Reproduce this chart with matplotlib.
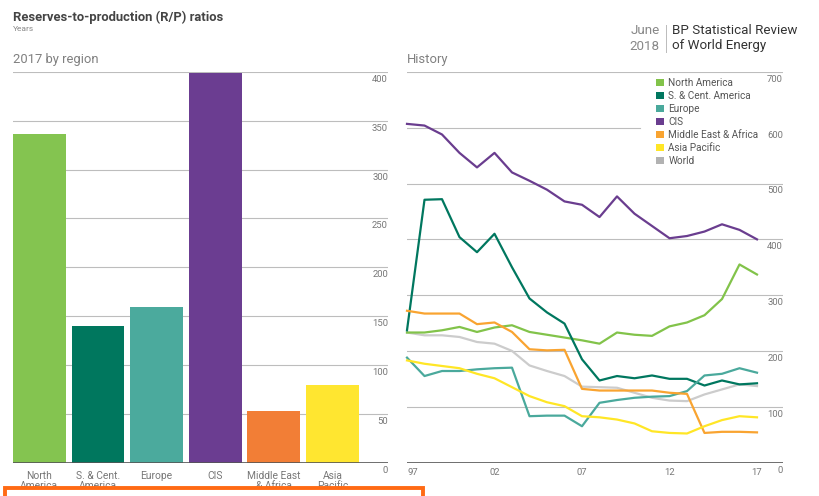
import matplotlib as mpl
mpl.use('Agg')
import matplotlib.pyplot as plt
from matplotlib.patches import Patch, Rectangle

plt.rcParams['font.family'] = ['Roboto', 'DejaVu Sans']

# 2017 by region
regions = ['North\nAmerica', 'S. & Cent.\nAmerica', 'Europe', 'CIS', 'Middle East\n& Africa', 'Asia\nPacific']
rp_2017 = [336, 140, 159, 399, 53, 79]
bar_colors = ['#84C450', '#00775E', '#4BAA9D', '#6B3D91', '#F27E36', '#FFE630']

# history 1997-2017
years = list(range(1997, 2018))
north_america = [233, 233, 237, 243, 234, 242, 246, 234, 229, 224, 219,
                 213, 233, 229, 227, 244, 251, 264, 293, 355, 337]
sc_america = [237, 471, 472, 404, 377, 410, 350, 294, 269, 249, 185,
              147, 155, 151, 156, 150, 150, 138, 147, 140, 142]
europe = [188, 155, 164, 164, 167, 169, 170, 83, 84, 84, 65,
          107, 112, 116, 118, 119, 128, 156, 159, 169, 161]
cis = [607, 604, 588, 555, 529, 555, 520, 505, 489, 468, 462,
       440, 477, 446, 424, 402, 406, 414, 427, 417, 400]
mea = [272, 267, 267, 267, 248, 251, 234, 203, 201, 202, 132,
       129, 129, 129, 129, 125, 123, 53, 55, 55, 54]
asia_pacific = [183, 177, 173, 169, 159, 151, 135, 119, 108, 101, 83,
                81, 77, 70, 56, 53, 52, 65, 76, 83, 81]
world = [233, 228, 228, 225, 216, 213, 200, 174, 164, 155, 136,
         135, 134, 125, 116, 111, 110, 122, 131, 140, 137]

series_names = ['North America', 'S. & Cent. America', 'Europe', 'CIS',
                'Middle East & Africa', 'Asia Pacific', 'World']
series = [north_america, sc_america, europe, cis, mea, asia_pacific, world]
line_colors = ['#82C34A', '#00775F', '#4AA99C', '#6A3D8F', '#F9A431', '#FFE626', '#CCCCCC']
legend_colors = ['#82C34A', '#00775F', '#4AA99C', '#6A3D8F', '#F9A431', '#FFE626', '#B2B2B2']

grid_c = '#BDBDBD'
label_c = '#777777'
fs_tick = 6.8

fig = plt.figure(figsize=(8.2, 4.96), dpi=100)

bottom = 1 - 462.5 / 496
height = (462.5 - 72) / 496

# left: bars
ax1 = fig.add_axes([13 / 820, bottom, 375 / 820, height])
for v in range(50, 401, 50):
    ax1.axhline(v, color=grid_c, lw=0.8, zorder=0)
    ax1.text(5.95, v - 3, str(v), ha='right', va='top', fontsize=fs_tick, color=label_c)
ax1.axhline(0, color='#555555', lw=1.2, zorder=3)
ax1.text(5.95, -4, '0', ha='right', va='top', fontsize=fs_tick, color=label_c)
ax1.bar(range(len(rp_2017)), rp_2017, width=0.9, color=bar_colors, zorder=2, clip_on=False)
ax1.set_xlim(-0.45, 5.95)
ax1.set_ylim(0, 400)
ax1.set_xticks(range(len(regions)))
ax1.set_xticklabels(regions, fontsize=7.4, color=label_c, linespacing=1.0)
ax1.tick_params(axis='x', length=0, pad=6)
ax1.set_yticks([])
for s in ax1.spines.values():
    s.set_visible(False)

# right: history lines
ax2 = fig.add_axes([407 / 820, bottom, 376 / 820, height])
x_right = 1997 + 376 / 17.5
for v in range(100, 701, 100):
    if v == 600:
        ax2.axhline(v, xmax=0.62, color=grid_c, lw=0.8, zorder=0)
    else:
        ax2.axhline(v, color=grid_c, lw=0.8, zorder=0)
    ax2.text(x_right, v - 5, str(v), ha='right', va='top', fontsize=fs_tick, color=label_c)
ax2.axhline(0, color='#555555', lw=1.2, zorder=3)
ax2.text(x_right, -7, '0', ha='right', va='top', fontsize=fs_tick, color=label_c)
order = [6, 0, 1, 2, 3, 4, 5]
for i in order:
    ax2.plot(years, series[i], color=line_colors[i], lw=1.6, zorder=2, clip_on=False)
ax2.set_xlim(1997, x_right)
ax2.set_ylim(0, 700)
ax2.set_xticks([1997, 2002, 2007, 2012, 2017])
ax2.set_xticklabels(['97', '02', '07', '12', '17'], fontsize=fs_tick, color=label_c)
ax2.get_xticklabels()[0].set_ha('left')
ax2.tick_params(axis='x', length=0, pad=4)
ax2.set_yticks([])
for s in ax2.spines.values():
    s.set_visible(False)

handles = [Patch(facecolor=c, edgecolor='none') for c in legend_colors]
leg = fig.legend(handles, series_names, loc='upper left',
                 bbox_to_anchor=(656 / 820, 1 - 78 / 496), frameon=False,
                 fontsize=7.2, handlelength=0.75, handleheight=0.75, handletextpad=0.5,
                 labelspacing=0.3, borderpad=0, borderaxespad=0)
for t in leg.get_texts():
    t.set_color('#555555')

# headings
fig.text(13 / 820, 1 - 17 / 496, 'Reserves-to-production (R/P) ratios', fontsize=9.4,
         fontweight='bold', color='#444444', va='center')
fig.text(13 / 820, 1 - 29 / 496, 'Years', fontsize=6, color='#888888', va='center')
fig.text(13 / 820, 1 - 60 / 496, '2017 by region', fontsize=9.4, color='#808080', va='center')
fig.text(407 / 820, 1 - 60 / 496, 'History', fontsize=9.4, color='#808080', va='center')

fig.text(660 / 820, 1 - 31 / 496, 'June', fontsize=9.6, color='#888888', ha='right', va='center')
fig.text(660 / 820, 1 - 46 / 496, '2018', fontsize=9.6, color='#888888', ha='right', va='center')
fig.add_artist(plt.Line2D([666 / 820, 666 / 820], [1 - 25 / 496, 1 - 52 / 496],
                          color='#BBBBBB', lw=0.7))
fig.text(672 / 820, 1 - 31 / 496, 'BP Statistical Review', fontsize=9.6, color='#333333', va='center')
fig.text(672 / 820, 1 - 46 / 496, 'of World Energy', fontsize=9.6, color='#333333', va='center')

# highlight box at the bottom
fig.add_artist(Rectangle((5 / 820, -0.05), 418 / 820, 0.05 + 8 / 496,
                         transform=fig.transFigure, facecolor='white',
                         edgecolor='#FF6A14', lw=2.8, zorder=10))

fig.savefig('out.png', dpi=100)
